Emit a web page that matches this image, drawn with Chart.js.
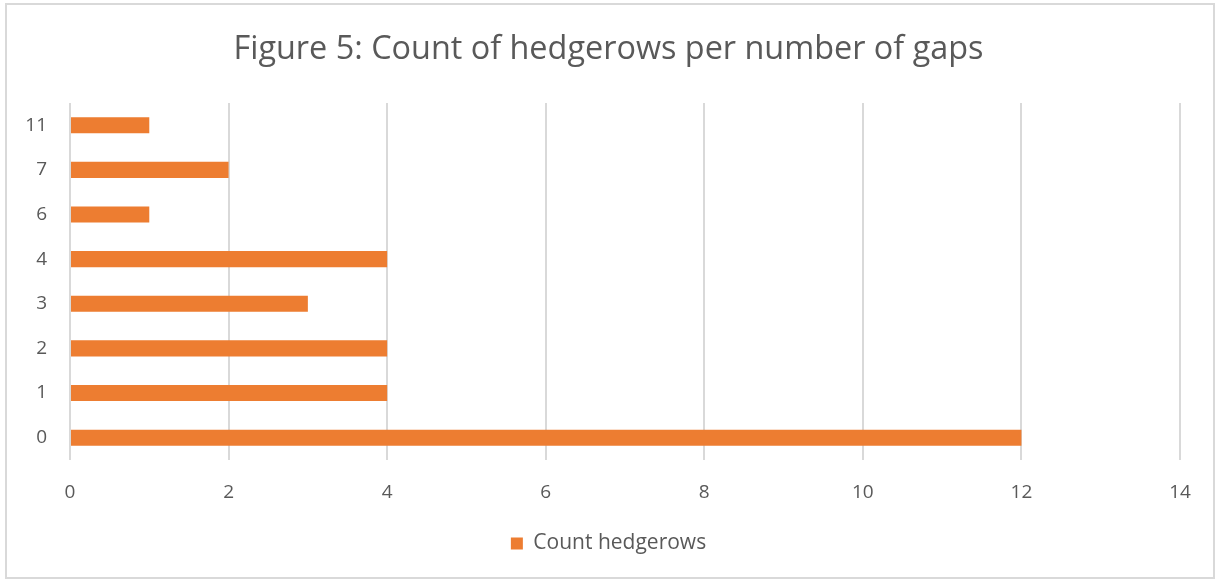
<!DOCTYPE html>
<html>
<head>
<meta charset="utf-8">
<script src="https://cdn.jsdelivr.net/npm/chart.js@4/dist/chart.umd.min.js"></script>
<style>
  body { margin: 0; background: #fff; }
  #wrap { position: relative; width: 1217px; height: 579px; }
  #frame { position: absolute; left: 5px; top: 3px; width: 1206px; height: 572px; border: 2px solid #d9d9d9; pointer-events: none; }
</style>
</head>
<body>
<div id="wrap">
  <canvas id="chart" width="1217" height="579"></canvas>
  <div id="frame"></div>
</div>
<script>
// gaps per hedgerow, listed bottom to top as in the picture
var gapLabels = ['0', '1', '2', '3', '4', '6', '7', '11'];
var hedgerowCounts = [12, 4, 4, 3, 4, 1, 2, 1];
var xTicks = [0, 2, 4, 6, 8, 10, 12, 14];

var textGrey = '#595959';
var gridGrey = '#d9d9d9';
var fontName = "'Open Sans', sans-serif";

var chart = new Chart(document.getElementById('chart'), {
     type: 'bar',
     data: {
          labels: gapLabels,
          datasets: [{
               label: 'Count hedgerows',
               data: hedgerowCounts,
               backgroundColor: '#ED7D31',
               barPercentage: 0.72,
               categoryPercentage: 0.5
          }]
     },
     options: {
          indexAxis: 'y',
          responsive: false,
          animation: false,
          layout: { padding: { left: 0, right: 0, top: 0, bottom: 15 } },
          plugins: {
               title: {
                    display: true,
                    text: 'Figure 5: Count of hedgerows per number of gaps',
                    color: textGrey,
                    font: { family: fontName, size: 32.4, weight: 'normal' },
                    padding: { top: 30, bottom: 34 }
               },
               legend: {
                    position: 'bottom',
                    labels: {
                         color: textGrey,
                         font: { family: fontName, size: 21 },
                         boxWidth: 12,
                         boxHeight: 12,
                         padding: 8
                    }
               },
               tooltip: { enabled: false }
          },
          scales: {
               x: {
                    min: 0,
                    max: 14,
                    afterBuildTicks: function (axis) {
                         axis.ticks = xTicks.map(function (v) { return { value: v }; });
                    },
                    afterFit: function (axis) { axis.height = 65; },
                    grid: { color: gridGrey, lineWidth: 2, drawTicks: false },
                    border: { display: false },
                    ticks: { color: textGrey, font: { family: fontName, size: 19 }, padding: 21 }
               },
               y: {
                    reverse: true,
                    afterFit: function (axis) { axis.width = 70; },
                    grid: { display: false, drawTicks: false },
                    border: { display: false },
                    ticks: { color: textGrey, font: { family: fontName, size: 19 }, padding: 23 }
               },
               // empty right-hand axis, only keeps the plot clear of the right edge
               yRight: {
                    type: 'linear',
                    position: 'right',
                    afterFit: function (axis) { axis.width = 37; },
                    grid: { display: false, drawTicks: false },
                    border: { display: false },
                    ticks: { display: false }
               }
          }
     }
});
</script>
</body>
</html>
